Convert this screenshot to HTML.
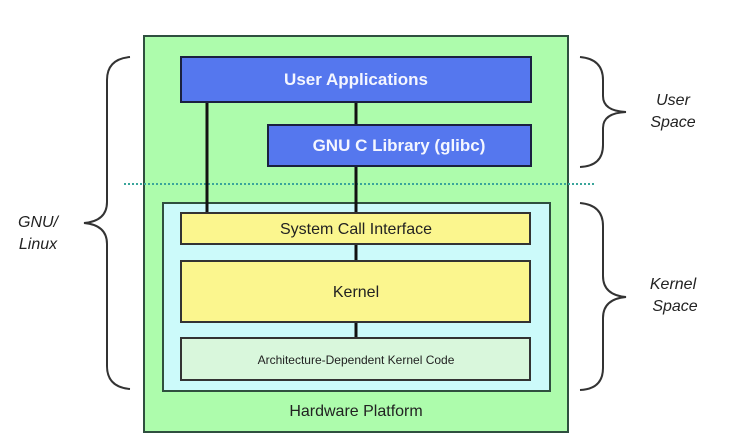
<!DOCTYPE html>
<html><head><style>
body{margin:0;width:735px;height:445px;background:#fff;overflow:hidden;font-family:"Liberation Sans",Arial,sans-serif}
svg{display:block}
</style></head><body>
<svg width="735" height="445" viewBox="0 0 735 445" xmlns="http://www.w3.org/2000/svg" font-family="Liberation Sans, Arial, sans-serif">
<rect x="144" y="36" width="424" height="396" fill="#adfcac" stroke="#2f4f3f" stroke-width="2"/>
<rect x="163" y="203" width="387" height="188" fill="#ccfafa" stroke="#2f4f3f" stroke-width="2"/>
<line x1="124" y1="184" x2="594" y2="184" stroke="#3aa59a" stroke-width="2" stroke-dasharray="2,2"/>
<line x1="207" y1="102" x2="207" y2="214" stroke="#111" stroke-width="3"/>
<line x1="356" y1="102" x2="356" y2="126" stroke="#111" stroke-width="3"/>
<line x1="356" y1="166" x2="356" y2="214" stroke="#111" stroke-width="3"/>
<line x1="356" y1="244" x2="356" y2="261" stroke="#111" stroke-width="3"/>
<line x1="356" y1="322" x2="356" y2="339" stroke="#111" stroke-width="3"/>
<rect x="181" y="57" width="350" height="45" fill="#5577ee" stroke="#1a2040" stroke-width="2"/>
<text x="356" y="85" text-anchor="middle" font-size="17" font-weight="bold" fill="#f4f6ff">User Applications</text>
<rect x="268" y="125" width="263" height="41" fill="#5577ee" stroke="#1a2040" stroke-width="2"/>
<text x="399" y="151" text-anchor="middle" font-size="17" font-weight="bold" fill="#f4f6ff">GNU C Library (glibc)</text>
<rect x="181" y="213" width="349" height="31" fill="#fbf68e" stroke="#333" stroke-width="2"/>
<text x="356" y="234" text-anchor="middle" font-size="16" fill="#222">System Call Interface</text>
<rect x="181" y="261" width="349" height="61" fill="#fbf68e" stroke="#333" stroke-width="2"/>
<text x="356" y="297" text-anchor="middle" font-size="16" fill="#222">Kernel</text>
<rect x="181" y="338" width="349" height="42" fill="#d9f7dc" stroke="#333" stroke-width="2"/>
<text x="356" y="364" text-anchor="middle" font-size="12" fill="#222">Architecture-Dependent Kernel Code</text>
<text x="356" y="416" text-anchor="middle" font-size="16" fill="#222">Hardware Platform</text>
<g fill="none" stroke="#333" stroke-width="2">
<path d="M130 57 Q107 59 107 80 L107 202 Q107 221 84 223 Q107 225 107 244 L107 366 Q107 387 130 389"/>
<path d="M580 57 Q603 59 603 80 L603 96 Q603 111 626 112 Q603 113 603 128 L603 145 Q603 166 580 167"/>
<path d="M580 203 Q603 205 603 226 L603 276 Q603 295 626 297 Q603 299 603 318 L603 368 Q603 389 580 390"/>
</g>
<g font-size="16" font-style="italic" fill="#222" text-anchor="middle">
<text x="673" y="105">User</text><text x="673" y="127">Space</text>
<text x="673" y="289">Kernel</text><text x="675" y="311">Space</text>
<text x="38" y="227">GNU/</text><text x="38" y="249">Linux</text>
</g>
</svg>
</body></html>
